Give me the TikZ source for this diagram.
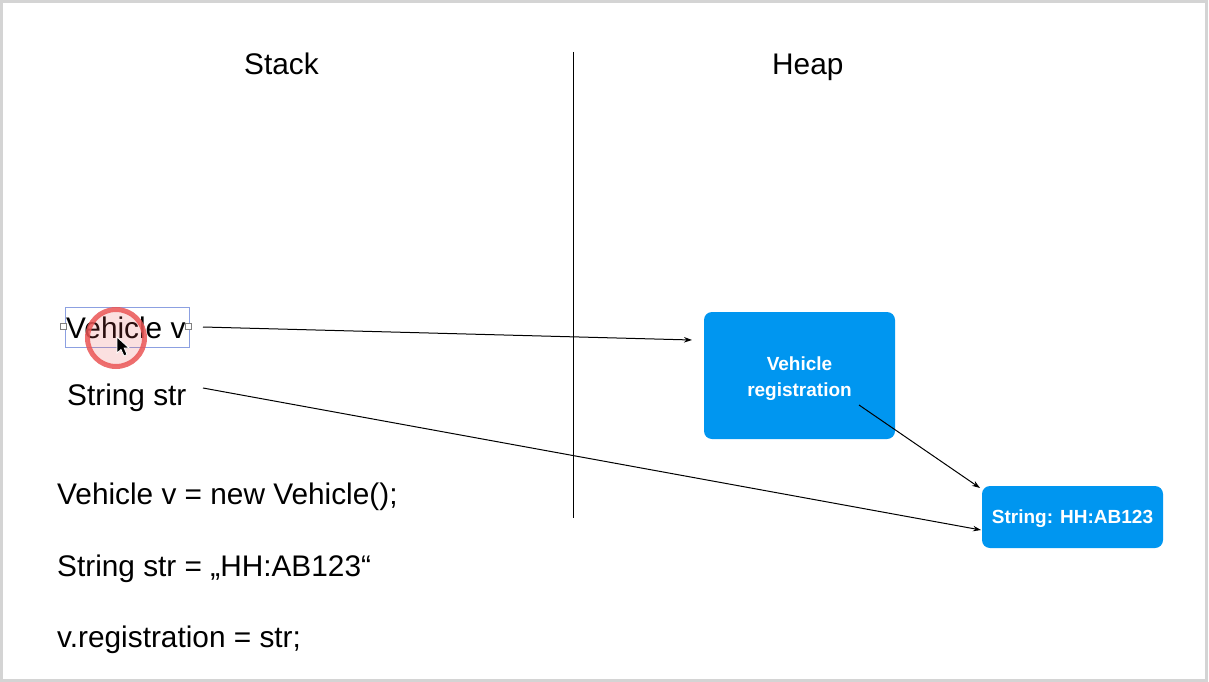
\documentclass[tikz,border=0pt]{standalone}
\usepackage{fontspec}
\setmainfont{Liberation Sans}
\usetikzlibrary{arrows.meta}
\definecolor{boxblue}{RGB}{0,150,240}
\definecolor{selblue}{RGB}{140,160,225}
\definecolor{ringred}{RGB}{235,85,85}
\definecolor{framegray}{RGB}{212,212,212}
\begin{document}
\begin{tikzpicture}[x=1pt,y=-1pt,
  lbl/.style={font=\fontsize{29.8}{34}\selectfont, inner sep=0pt, anchor=base west},
  objbox/.style={fill=boxblue, draw=none, rounded corners=8pt, inner sep=0pt},
  boxtext/.style={text=white, font=\bfseries\fontsize{19}{26}\selectfont, align=center, inner sep=0pt},
  ref/.style={line width=1pt, -{Stealth[length=8pt,width=5.5pt]}},
  handle/.style={draw=gray, fill=white, line width=0.6pt, minimum size=6pt, inner sep=0pt}]
\useasboundingbox (0,0) rectangle (1209,682);
\fill[white] (0,0) rectangle (1209,682);
\draw[framegray, line width=3pt] (1.5,1.5) rectangle (1206.5,680.5);

% headings
\node[lbl] (stack) at (244,75) {Stack};
\node[lbl] (heap) at (772,75) {Heap};

% divider
\coordinate (divtop) at (573,52);
\coordinate (divbot) at (573,518);
\draw[line width=1pt] (divtop) -- (divbot);

% stack variables
\node[lbl] (vv) at (66,338) {Vehicle v};
\node[lbl] (ss) at (67,405) {String str};

% code
\node[lbl] (c1) at (57,504) {Vehicle v = new Vehicle();};
\node[lbl] (c2) at (57,576) {String str = „HH:AB123“};
\node[lbl] (c3) at (57,647) {v.registration = str;};

% heap objects
\node[objbox, minimum width=191pt, minimum height=127pt] (vr) at (799.5,375.5) {};
\node[boxtext] (vrt) at ([yshift=-3pt]vr.center) {Vehicle\\registration};
\node[objbox, minimum width=181pt, minimum height=62pt] (hs) at (1072.5,517) {};
\node[boxtext] (hst) at ([yshift=-2pt]hs.center) {String: HH:AB123};

% connector end points
\coordinate (a1s) at (203,327);
\coordinate (a1e) at (692,340);
\coordinate (a2s) at (203,388);
\coordinate (a2e) at (981,530);
\coordinate (a3s) at (859,405);
\coordinate (a3e) at (980,488);

\draw[ref] (a1s) -- (a1e);
\draw[ref] (a2s) -- (a2e);
\draw[ref] (a3s) -- (a3e);

% selection box around "Vehicle v"
\draw[selblue, line width=0.8pt] (65,307) rectangle (189,347);
\node[handle] (h1) at (63,326) {};
\node[handle] (h2) at (188,326) {};

% cursor highlight
\fill[ringred, opacity=0.18] (116,338) circle (28pt);
\draw[ringred, line width=5pt, opacity=0.85] (116,338) circle (28.5pt);
\filldraw[fill=black, draw=white, line width=0.8pt]
  (117,337) -- (117,353) -- (121,349.5) -- (124,356) -- (127,354.5) -- (124.2,348) -- (129,348) -- cycle;
\end{tikzpicture}
\end{document}
